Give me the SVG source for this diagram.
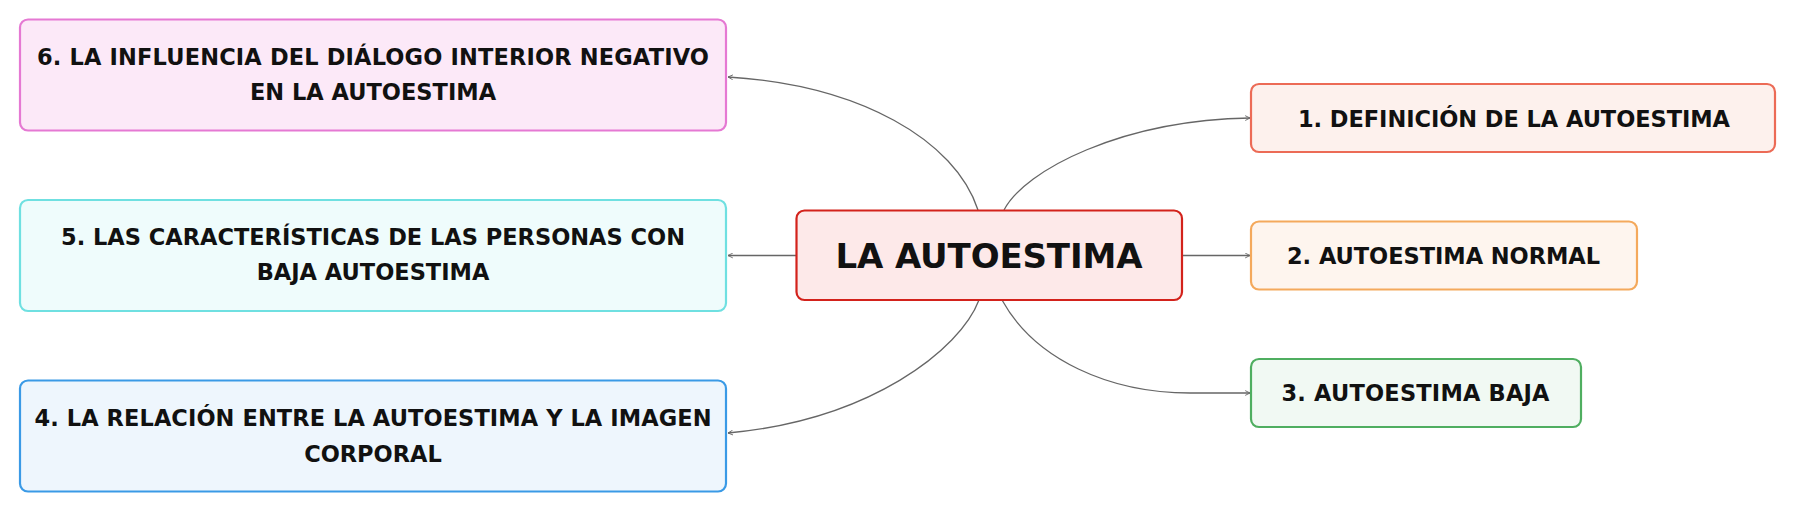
<svg xmlns="http://www.w3.org/2000/svg" width="1796" height="512" viewBox="0 0 1796 512">
<style>
.box{stroke-width:2.2}
.lbl{font-family:"DejaVu Sans","Liberation Sans",sans-serif;font-weight:bold;font-size:22.5px;fill:#111;text-anchor:middle}
.main{font-size:34px}
.conn{fill:none;stroke:#666;stroke-width:1.3}
</style>
<defs>
<marker id="arr" viewBox="0 0 10 10" refX="9" refY="5" markerWidth="6" markerHeight="6" orient="auto" markerUnits="userSpaceOnUse">
<path d="M1,1 L9,5 L1,9" fill="none" stroke="#666" stroke-width="1.5"/>
</marker>
</defs>
<rect width="1796" height="512" fill="#fff"/>
<g id="connectors">
<path class="conn" marker-end="url(#arr)" d="M1004,210 C1025,170 1122,120 1250,118"/>
<path class="conn" marker-end="url(#arr)" d="M1182,255.5 L1250,255.5"/>
<path class="conn" marker-end="url(#arr)" d="M1002,300 C1035,360 1110,393 1190,393 L1250,393"/>
<path class="conn" marker-end="url(#arr)" d="M979,300 C960,350 870,420 728,433"/>
<path class="conn" marker-end="url(#arr)" d="M796,255.5 L728,255.5"/>
<path class="conn" marker-end="url(#arr)" d="M978,210 C955,140 860,85 728,77"/>
</g>
<g id="center">
<rect class="box" x="796.5" y="210.5" width="385.5" height="89.5" rx="8" fill="#fde9e9" stroke="#d3221b" stroke-width="2.6"/>
<text class="lbl main" x="989" y="268" textLength="307">LA AUTOESTIMA</text>
</g>
<g id="node1">
<rect class="box" x="1251" y="84" width="524" height="68" rx="8" fill="#fdf1ed" stroke="#ec6b56"/>
<text class="lbl" x="1514" y="126.5" textLength="432">1. DEFINICIÓN DE LA AUTOESTIMA</text>
</g>
<g id="node2">
<rect class="box" x="1251" y="221.5" width="386" height="68" rx="8" fill="#fef5ee" stroke="#f4a95c"/>
<text class="lbl" x="1443.5" y="264" textLength="313">2. AUTOESTIMA NORMAL</text>
</g>
<g id="node3">
<rect class="box" x="1251" y="359" width="330" height="68" rx="8" fill="#f1f9f3" stroke="#4fae60"/>
<text class="lbl" x="1415.5" y="400.5" textLength="268">3. AUTOESTIMA BAJA</text>
</g>
<g id="node4">
<rect class="box" x="20" y="380.5" width="706" height="111" rx="8" fill="#eef6fd" stroke="#3a9ae6"/>
<text class="lbl" x="373" y="426" textLength="677">4. LA RELACIÓN ENTRE LA AUTOESTIMA Y LA IMAGEN</text>
<text class="lbl" x="373" y="462">CORPORAL</text>
</g>
<g id="node5">
<rect class="box" x="20" y="200" width="706" height="111" rx="8" fill="#effcfc" stroke="#6fe0e1"/>
<text class="lbl" x="373" y="245" textLength="624">5. LAS CARACTERÍSTICAS DE LAS PERSONAS CON</text>
<text class="lbl" x="373" y="280">BAJA AUTOESTIMA</text>
</g>
<g id="node6">
<rect class="box" x="20" y="19.5" width="706" height="111" rx="8" fill="#fce9f8" stroke="#e579d3"/>
<text class="lbl" x="373" y="65" textLength="672">6. LA INFLUENCIA DEL DIÁLOGO INTERIOR NEGATIVO</text>
<text class="lbl" x="373" y="100">EN LA AUTOESTIMA</text>
</g>
</svg>
